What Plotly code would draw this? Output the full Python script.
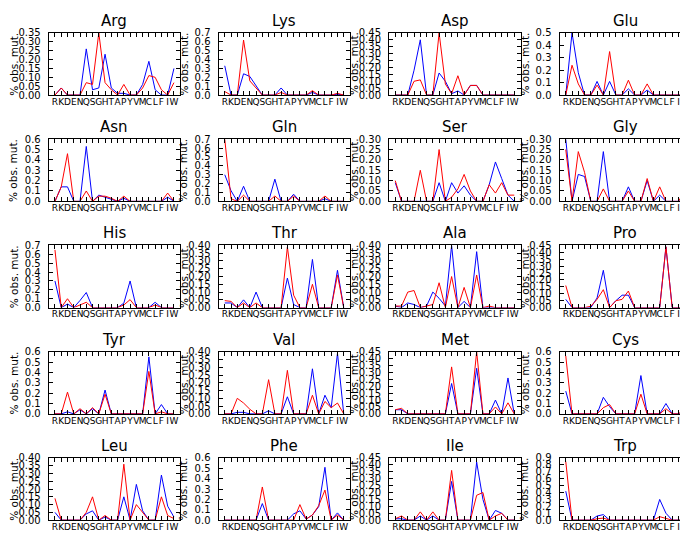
import plotly.graph_objects as go

amino_acids = list("RKDENQSGHTAPYVMCLFIW")
panel_titles = ["Arg", "Lys", "Asp", "Glu", "Asn", "Gln", "Ser", "Gly", "His", "Thr",
                "Ala", "Pro", "Tyr", "Val", "Met", "Cys", "Leu", "Phe", "Ile", "Trp"]
y_max = [0.35, 0.7, 0.45, 0.5, 0.6, 0.7, 0.30, 0.30, 0.7, 0.40,
         0.40, 0.45, 0.6, 0.40, 0.45, 0.6, 0.40, 0.6, 0.45, 0.9]
y_step = [0.05, 0.1, 0.05, 0.1, 0.1, 0.1, 0.05, 0.05, 0.1, 0.05,
          0.05, 0.05, 0.1, 0.05, 0.05, 0.1, 0.05, 0.1, 0.05, 0.1]

arg_red = [0, 0.04, 0, 0, 0, 0.07, 0.06, 0.35, 0.07, 0.03, 0, 0.06, 0, 0, 0.04, 0.11, 0.10, 0.03, 0, 0.07]
arg_blue = [0, 0.04, 0, 0, 0, 0.26, 0.03, 0.04, 0.23, 0.04, 0.01, 0.01, 0, 0, 0.06, 0.19, 0.03, 0, 0, 0.15]
lys_red = [0.04, 0, 0, 0.62, 0.16, 0.08, 0, 0, 0, 0.03, 0, 0, 0, 0, 0.05, 0, 0, 0, 0.02, 0]
lys_blue = [0.33, 0, 0, 0.24, 0.21, 0.10, 0, 0, 0, 0.08, 0, 0, 0, 0, 0.03, 0, 0, 0, 0.01, 0]
asp_red = [0, 0, 0, 0.10, 0.11, 0, 0, 0.45, 0.08, 0.01, 0.14, 0, 0.07, 0.07, 0, 0, 0, 0, 0, 0]
asp_blue = [0, 0, 0, 0.18, 0.40, 0, 0, 0.16, 0.10, 0.01, 0.03, 0, 0.07, 0.07, 0, 0, 0, 0, 0, 0]
glu_red = [0, 0.24, 0.09, 0, 0, 0.08, 0, 0.35, 0, 0, 0.12, 0, 0, 0.09, 0, 0, 0, 0, 0, 0]
glu_blue = [0, 0.50, 0.18, 0, 0, 0.11, 0, 0.11, 0, 0, 0.05, 0, 0, 0.04, 0, 0, 0, 0, 0, 0]
asn_red = [0, 0.14, 0.46, 0, 0, 0.10, 0, 0.05, 0.05, 0.03, 0, 0.05, 0, 0, 0, 0, 0, 0, 0.08, 0]
asn_blue = [0, 0.14, 0.14, 0, 0, 0.53, 0, 0.06, 0.04, 0.02, 0, 0.03, 0, 0, 0, 0, 0, 0, 0.04, 0]
gln_red = [0.70, 0.03, 0, 0.07, 0, 0, 0, 0, 0.06, 0, 0, 0.06, 0, 0, 0, 0, 0.06, 0, 0, 0]
gln_blue = [0.30, 0.12, 0, 0.17, 0, 0, 0, 0, 0.25, 0, 0, 0.08, 0, 0, 0, 0, 0.03, 0, 0, 0]
ser_red = [0.10, 0, 0, 0, 0.15, 0, 0, 0.25, 0, 0.02, 0.06, 0.13, 0.05, 0, 0, 0.08, 0.04, 0.09, 0.03, 0.03]
ser_blue = [0.09, 0, 0, 0, 0, 0, 0, 0.09, 0, 0.09, 0.04, 0.075, 0.03, 0, 0, 0.08, 0.19, 0.11, 0.03, 0]
gly_red = [0.25, 0, 0.24, 0.14, 0, 0, 0.06, 0, 0, 0, 0.05, 0, 0, 0.11, 0, 0.07, 0, 0, 0, 0.05]
gly_blue = [0.30, 0, 0.13, 0.12, 0, 0, 0.24, 0, 0, 0, 0.07, 0, 0, 0.10, 0, 0.03, 0, 0, 0, 0.01]
his_red = [0.65, 0, 0.10, 0, 0.03, 0.06, 0, 0, 0, 0, 0, 0.03, 0.09, 0, 0, 0, 0.03, 0, 0, 0]
his_blue = [0.30, 0, 0.04, 0, 0.08, 0.17, 0, 0, 0, 0, 0, 0.05, 0.30, 0, 0, 0, 0.06, 0, 0, 0]
thr_red = [0.045, 0.04, 0, 0.03, 0, 0.03, 0, 0, 0, 0, 0.39, 0.08, 0, 0, 0.15, 0, 0, 0, 0.21, 0]
thr_blue = [0.03, 0.03, 0, 0.05, 0, 0.10, 0, 0, 0, 0, 0.19, 0.02, 0, 0, 0.31, 0, 0, 0, 0.24, 0]
ala_red = [0.01, 0.01, 0.10, 0.11, 0, 0.01, 0.02, 0.16, 0, 0.20, 0, 0.13, 0, 0.21, 0, 0.01, 0, 0, 0, 0]
ala_blue = [0.01, 0, 0.03, 0.02, 0, 0.01, 0.10, 0.06, 0.01, 0.40, 0, 0.04, 0, 0.36, 0, 0, 0, 0, 0, 0]
pro_red = [0.16, 0, 0, 0, 0.01, 0.06, 0.13, 0, 0.05, 0.06, 0.12, 0, 0, 0, 0, 0, 0.44, 0, 0, 0]
pro_blue = [0.06, 0, 0, 0, 0, 0.07, 0.27, 0, 0.05, 0.09, 0.09, 0, 0, 0, 0, 0, 0.44, 0, 0, 0]
tyr_red = [0, 0, 0.21, 0, 0.05, 0, 0.06, 0, 0.19, 0, 0, 0, 0, 0, 0, 0.41, 0, 0.02, 0, 0]
tyr_blue = [0, 0, 0.02, 0, 0.04, 0, 0.05, 0, 0.23, 0, 0, 0, 0, 0, 0, 0.55, 0, 0.09, 0, 0]
val_red = [0, 0, 0.10, 0.07, 0.03, 0, 0, 0.22, 0, 0, 0.28, 0, 0, 0, 0.12, 0, 0.08, 0.04, 0.07, 0]
val_blue = [0, 0, 0.01, 0.01, 0, 0, 0, 0.02, 0, 0, 0.11, 0, 0, 0, 0.29, 0, 0.12, 0.04, 0.39, 0]
met_red = [0.03, 0.04, 0, 0, 0, 0, 0, 0, 0, 0.34, 0, 0, 0, 0.45, 0, 0, 0.05, 0, 0.08, 0]
met_blue = [0.03, 0.03, 0, 0, 0, 0, 0, 0, 0, 0.22, 0, 0, 0, 0.33, 0, 0, 0.10, 0, 0.26, 0]
cys_red = [0.56, 0, 0, 0, 0, 0, 0.06, 0.09, 0, 0, 0, 0, 0.19, 0, 0, 0, 0.05, 0, 0, 0.05]
cys_blue = [0.22, 0, 0, 0, 0, 0, 0.16, 0.07, 0, 0, 0, 0, 0.37, 0, 0, 0, 0.10, 0, 0, 0]
leu_red = [0.14, 0, 0, 0, 0, 0.05, 0.15, 0, 0.03, 0, 0, 0.36, 0, 0.10, 0.05, 0, 0, 0.15, 0.03, 0.01]
leu_blue = [0.05, 0, 0, 0, 0, 0.04, 0.06, 0, 0.02, 0, 0, 0.15, 0, 0.23, 0.06, 0, 0, 0.29, 0.09, 0.02]
phe_red = [0, 0, 0, 0, 0, 0, 0.32, 0, 0, 0, 0, 0, 0.15, 0.01, 0.05, 0.14, 0.29, 0, 0.05, 0]
phe_blue = [0, 0, 0, 0, 0, 0, 0.16, 0, 0, 0, 0, 0.06, 0.09, 0.01, 0.05, 0.13, 0.51, 0, 0.07, 0]
ile_red = [0.01, 0.03, 0, 0, 0.06, 0, 0.06, 0, 0, 0.36, 0, 0, 0, 0.18, 0.20, 0, 0.03, 0.05, 0, 0]
ile_blue = [0.01, 0.01, 0, 0, 0.03, 0, 0.03, 0, 0, 0.28, 0, 0, 0, 0.42, 0.15, 0, 0.07, 0.05, 0, 0]
trp_red = [0.85, 0, 0, 0, 0, 0.02, 0.03, 0, 0, 0, 0, 0, 0, 0, 0, 0.05, 0.03, 0, 0, 0]
trp_blue = [0.42, 0, 0, 0, 0, 0.06, 0.08, 0, 0, 0, 0, 0, 0, 0, 0, 0.30, 0.10, 0, 0, 0]

red_series = [arg_red, lys_red, asp_red, glu_red, asn_red, gln_red, ser_red, gly_red, his_red, thr_red,
              ala_red, pro_red, tyr_red, val_red, met_red, cys_red, leu_red, phe_red, ile_red, trp_red]
blue_series = [arg_blue, lys_blue, asp_blue, glu_blue, asn_blue, gln_blue, ser_blue, gly_blue, his_blue, thr_blue,
               ala_blue, pro_blue, tyr_blue, val_blue, met_blue, cys_blue, leu_blue, phe_blue, ile_blue, trp_blue]

W, H = 688, 534
col_left = [40.7, 210.5, 381.0, 551.5]
ax_w = 131.5
row_top = [19.3 + 108.5 * r for r in range(5)]
ax_h = 63.5
FONT = "DejaVu Sans"

x_pos = list(range(len(amino_acids)))
fig = go.Figure()
layout = {}
annotations = []
for k in range(20):
    r, c = divmod(k, 4)
    n = k + 1
    sfx = "" if n == 1 else str(n)
    xa, ya = "x" + sfx, "y" + sfx
    fig.add_trace(go.Scatter(x=x_pos, y=blue_series[k], xaxis=xa, yaxis=ya, mode="lines",
                             line=dict(color="#0000ff", width=1), showlegend=False, hoverinfo="skip"))
    fig.add_trace(go.Scatter(x=x_pos, y=red_series[k], xaxis=xa, yaxis=ya, mode="lines",
                             line=dict(color="#ff0000", width=1), showlegend=False, hoverinfo="skip"))
    x0 = col_left[c] / W
    x1 = (col_left[c] + ax_w) / W
    y1 = 1 - row_top[r] / H
    y0 = 1 - (row_top[r] + ax_h) / H
    common = dict(showline=True, linecolor="black", linewidth=1, mirror="ticks", ticks="inside",
                  ticklen=4, tickcolor="black", tickwidth=1, showgrid=False, zeroline=False)
    layout["xaxis" + sfx] = dict(domain=[x0, x1], anchor=ya, range=[-1, 20], tickmode="array",
                                 tickvals=x_pos, ticktext=amino_acids, tickangle=0,
                                 ticklabelstandoff=-2,
                                 tickfont=dict(family=FONT, size=9, color="black"), **common)
    fmt = ".2f" if y_step[k] < 0.1 else ".1f"
    layout["yaxis" + sfx] = dict(domain=[y0, y1], anchor=xa, range=[0, y_max[k]], tickmode="linear",
                                 tick0=0, dtick=y_step[k], tickformat=fmt, ticklabelstandoff=5,
                                 tickfont=dict(family=FONT, size=10, color="black"), **common)
    annotations.append(dict(text=panel_titles[k], xref=xa + " domain", yref=ya + " domain", x=0.5, y=1,
                            xanchor="center", yanchor="bottom", yshift=1, showarrow=False,
                            font=dict(family=FONT, size=15, color="black")))
    annotations.append(dict(text="% obs. mut.", xref=xa + " domain", yref=ya + " domain", x=0, y=0.5,
                            xanchor="right", yanchor="middle", xshift=-27, textangle=-90, showarrow=False,
                            font=dict(family=FONT, size=10.5, color="black")))

fig.update_layout(width=W, height=H, margin=dict(l=0, r=0, t=0, b=0), plot_bgcolor="white",
                  paper_bgcolor="white", showlegend=False, annotations=annotations, **layout)
fig.write_html("out.html")
